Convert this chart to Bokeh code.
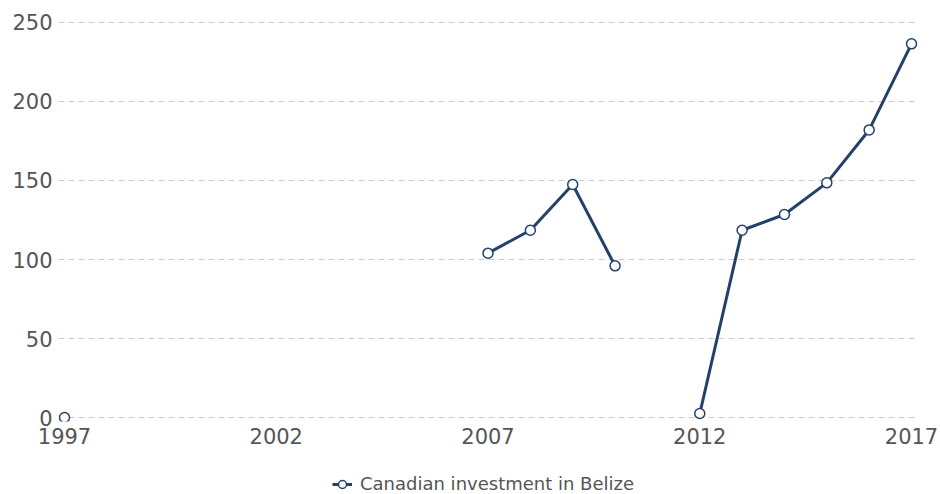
import numpy as np
from bokeh.plotting import figure
from bokeh.layouts import column
from bokeh.models import (Range1d, FixedTicker, Legend, LegendItem,
                          ColumnDataSource)
from bokeh.embed import file_html
from bokeh.resources import INLINE

nan = float("nan")
years = list(range(1997, 2018))
values = [0, nan, nan, nan, nan, nan, nan, nan, nan, nan,
          104, 118.5, 147.5, 96, nan,
          2.5, 118.5, 128.5, 148.5, 182, 236.5]
series_name = "Canadian investment in Belize"
x_ticks = [1997, 2002, 2007, 2012, 2017]
y_ticks = [0, 50, 100, 150, 200, 250]

NAVY = "#24416b"
GRAY = "#555555"
FONT = "DejaVu Sans"

src = ColumnDataSource(dict(x=years, y=values))

p = figure(width=940, height=460, output_backend="svg", toolbar_location=None,
           x_range=Range1d(1996.858, 2017.165), y_range=Range1d(-2.53, 252.53),
           min_border_left=58, min_border_right=22, min_border_top=18, min_border_bottom=39)
p.outline_line_color = None

ln = p.line("x", "y", source=src, line_color=NAVY, line_width=3)
sc = p.scatter("x", "y", source=src, size=10, fill_color="white",
               line_color=NAVY, line_width=1.5)

for ax in (p.xaxis[0], p.yaxis[0]):
    ax.axis_line_color = None
    ax.major_tick_line_color = None
    ax.minor_tick_line_color = None
    ax.major_tick_out = 0
    ax.major_tick_in = 0
    ax.minor_tick_out = 0
    ax.major_label_text_font = FONT
    ax.major_label_text_font_size = "21px"
    ax.major_label_text_color = GRAY
    ax.major_label_standoff = 6

p.xaxis.ticker = FixedTicker(ticks=x_ticks)
p.yaxis.ticker = FixedTicker(ticks=y_ticks)
p.xgrid.grid_line_color = None
p.ygrid.grid_line_color = "#cccccc"
p.ygrid.grid_line_dash = "6 4"
p.ygrid.grid_line_width = 1

# legend strip below the chart (its frame is aligned with the chart's frame)
q = figure(width=940, height=34, output_backend="svg", toolbar_location=None,
           x_range=Range1d(0, 1), y_range=Range1d(0, 1), min_border=0)
q.outline_line_color = None
q.axis.visible = False
q.grid.visible = False
# off-range proxy glyphs, only used for the legend swatch
ln2 = q.line(x=[-5, -4], y=[-5, -5], line_color=NAVY, line_width=3)
sc2 = q.scatter(x=[-5], y=[-5], size=10, fill_color="white",
                line_color=NAVY, line_width=1.5)
legend = Legend(items=[LegendItem(label=series_name, renderers=[ln2, sc2])],
                location=(274, 0), orientation="horizontal",
                border_line_color=None, background_fill_alpha=0,
                padding=0, margin=0, label_text_font=FONT,
                label_text_font_size="18px", label_text_color=GRAY,
                glyph_width=20, glyph_height=20, label_height=20,
                label_standoff=8)
q.add_layout(legend, "center")

layout = column(p, q, spacing=0)
open("out.html", "w").write(file_html(layout, INLINE))
